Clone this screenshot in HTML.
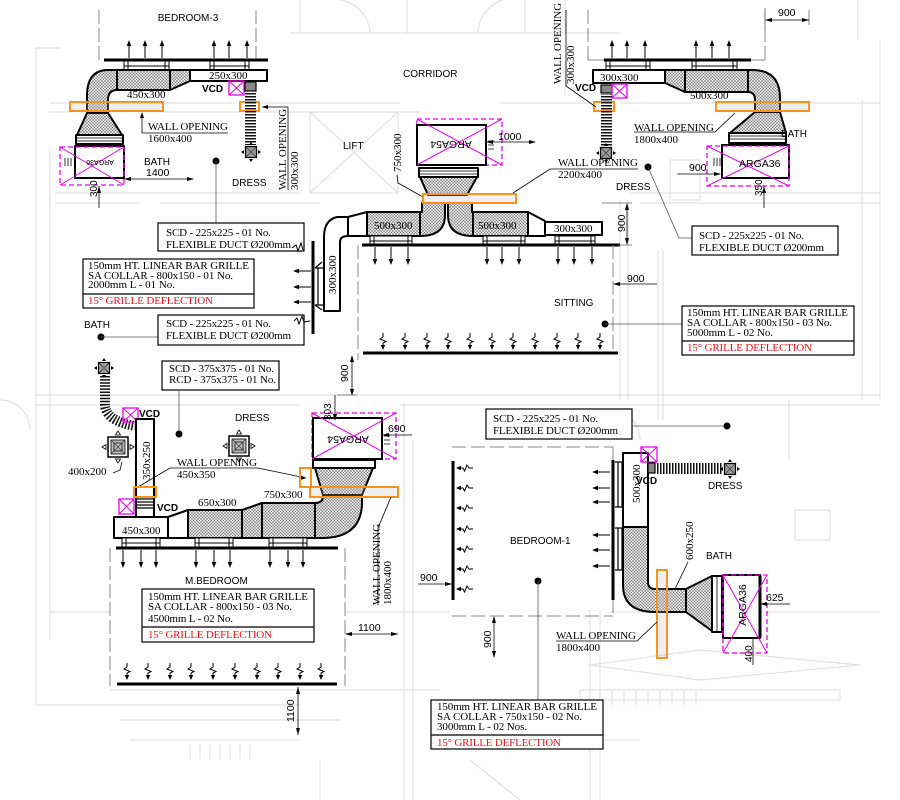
<!DOCTYPE html>
<html><head><meta charset="utf-8"><style>
html,body{margin:0;padding:0;background:#fff;}
svg{display:block;}
.s{font-family:"Liberation Sans",sans-serif;}
.r{font-family:"Liberation Serif",serif;}
</style></head><body>
<svg width="900" height="800" viewBox="0 0 900 800" xmlns="http://www.w3.org/2000/svg">
<defs>
<pattern id="h" width="3" height="3" patternUnits="userSpaceOnUse"><rect width="3" height="3" fill="#e2e2e2"/><path d="M0,0L3,3M3,0L0,3" stroke="#6a6a6a" stroke-width="0.45"/></pattern>
<pattern id="fx" width="3" height="3" patternUnits="userSpaceOnUse"><rect width="3" height="1.5" fill="#111"/></pattern>
<pattern id="fxv" width="3" height="3" patternUnits="userSpaceOnUse"><rect width="1.5" height="3" fill="#111"/></pattern>
<g id="ad"><line x1="0" y1="0" x2="0" y2="13" stroke="#000" stroke-width="1"/><path d="M-2.3,12L0,18L2.3,12z"/></g>
<g id="au"><line x1="0" y1="18" x2="0" y2="5" stroke="#000" stroke-width="1"/><path d="M-2.3,6L0,0L2.3,6z"/></g>
<g id="al"><line x1="18" y1="0" x2="5" y2="0" stroke="#000" stroke-width="1"/><path d="M6,-2.3L0,0L6,2.3z"/></g>
<g id="zd"><path d="M0,0V4L-3,6L3,8.5L0,10V13" fill="none" stroke="#000" stroke-width="1"/><path d="M-2.2,12L0,17L2.2,12z"/></g>
<g id="zl"><path d="M16,0H12L10,-3L7.5,3L6,0H3" fill="none" stroke="#000" stroke-width="1"/><path d="M4,-2.2L-1,0L4,2.2z"/></g>
<g id="df"><rect x="-5.5" y="-5.5" width="11" height="11" fill="#9a9a9a" stroke="#000" stroke-width="1.2"/><path d="M-5,-5L5,5M5,-5L-5,5" stroke="#333" stroke-width="0.7"/><path d="M0,-10L-2,-7H2z M0,10L-2,7H2z M-10,0L-7,-2V2z M10,0L7,-2V2z"/></g>
<g id="dfb"><rect x="-10" y="-10" width="20" height="20" fill="#fff" stroke="#000" stroke-width="1.5"/><rect x="-7" y="-7" width="14" height="14" fill="#bbb" stroke="#000" stroke-width="0.8"/><rect x="-4" y="-4" width="8" height="8" fill="none" stroke="#000" stroke-width="0.7"/><path d="M-7,-7L7,7M7,-7L-7,7" stroke="#333" stroke-width="0.6"/><path d="M0,-16L-2.5,-12H2.5z M0,16L-2.5,12H2.5z M-16,0L-12,-2.5V2.5z M16,0L12,-2.5V2.5z" fill="#fff" stroke="#000" stroke-width="0.8"/></g>
</defs>
<rect width="900" height="800" fill="#fff"/>

<!-- ============ ARCHITECTURE (light) ============ -->
<g stroke="#e2e2e2" stroke-width="1.2" fill="none">
<path d="M36,48V705M50,150V640M36,48H60"/>
<path d="M50,103H232M262,103H400M500,103H590M620,103H880M50,112H70M163,112H240M262,112H420"/>
<path d="M55,193H300M55,203H140M160,203H320M630,193H880M640,203H880"/>
<path d="M36,395H880M36,405H300M400,405H880"/>
<path d="M620,200V400M628,200V400M658,250V420M663,250V420M789,400V460M862,100V400"/>
<path d="M404,403V800M413,440V800M590,610V800M600,610V800"/>
<path d="M50,612H110M345,612H450M610,612H880M110,690H440M455,740H640M36,705H300"/>
<rect x="310" y="112" width="88" height="81"/><path d="M310,112L398,193M398,112L310,193"/>
<path d="M340,0A35,35 0 0 1 370,33M503,0A35,35 0 0 0 478,33M290,33H620M300,33V0M407,0V33M525,33V0"/>
<path d="M565,0V33M565,60V95M858,0V40M880,40V400"/>
<path d="M0,400A30,30 0 0 1 30,430M610,410A30,30 0 0 1 640,440"/>
<path d="M590,665L700,650L860,665L700,680Z M580,690H840V700H580Z"/>
<path d="M190,745V760M200,745V760M210,745V760M220,745V760M230,745V760M240,745V760M250,745V760M600,690V705M612,690V705M624,690V705M636,690V705M648,690V705M660,690V705M672,690V705M684,690V705M696,690V705"/>
<path d="M130,740H300M120,720H340M320,760V800M470,760L520,800"/>
<path d="M670,160H700V200H670ZM795,510H830V540H795Z"/>
</g>

<!-- ============ TOP-LEFT (BEDROOM-3) ============ -->
<text x="188" y="21" class="s" font-size="10" text-anchor="middle">BEDROOM-3</text>
<path d="M99,10V60M256,10V60" stroke="#888" stroke-width="1" stroke-dasharray="14,4"/>
<use href="#au" x="129" y="40"/><use href="#au" x="145" y="40"/><use href="#au" x="162" y="40"/>
<use href="#au" x="214" y="40"/><use href="#au" x="229" y="40"/><use href="#au" x="247" y="40"/>
<g stroke="#000" fill="#fff" stroke-width="1">
<rect x="124" y="60" width="45" height="10"/><path d="M128,60V70M165,60V70M124,66H169"/>
<rect x="210" y="60" width="39" height="10"/><path d="M214,60V70M245,60V70M210,66H249"/>
</g>
<line x1="104" y1="60" x2="268" y2="60" stroke="#000" stroke-width="3"/>
<g stroke="#000" stroke-width="2" stroke-linejoin="round">
<path fill="url(#h)" d="M117,70H108Q87,70 87,96V113H108V100Q108,90 117,90Z"/>
<rect x="117" y="70" width="53" height="20" fill="url(#h)"/>
<path fill="url(#h)" d="M170,70H190V81L170,90Z"/>
<rect x="190" y="70" width="77" height="11" fill="#fff"/>
<path fill="url(#h)" d="M87,113H108L122,135H77Z"/>
<rect x="76" y="135" width="47" height="9" fill="#fff"/>
<rect x="75" y="146" width="49" height="32" fill="#fff"/>
</g>
<path d="M76,138H123M76,141H123" stroke="#000" stroke-width="0.8"/>
<rect x="60" y="147" width="64" height="38" fill="none" stroke="#e0e" stroke-width="1.3" stroke-dasharray="5,3"/>
<path d="M60,147L124,185M124,147L60,185" stroke="#e0e" stroke-width="1"/>
<text transform="translate(100,160) rotate(180)" class="s" font-size="7" text-anchor="middle">ARGA36</text>
<path d="M71,158V166M68,158V166M65,158V166" stroke="#000" stroke-width="0.8"/>
<text x="127" y="98" class="r" font-size="11">450x300</text>
<text x="209" y="79" class="r" font-size="11">250x300</text>
<rect x="70" y="102" width="93" height="9" fill="rgba(190,190,190,0.25)" stroke="#f7941d" stroke-width="2"/>
<rect x="240" y="102" width="19" height="9" fill="none" stroke="#f7941d" stroke-width="2"/>
<text x="202" y="92" class="s" font-size="10" font-weight="bold">VCD</text>
<rect x="229" y="81" width="15" height="14" fill="none" stroke="#e0e" stroke-width="1.3"/>
<path d="M229,81L244,95M244,81L229,95" stroke="#e0e" stroke-width="1"/>
<rect x="245" y="82" width="11" height="9" fill="#888" stroke="#000" stroke-width="1.2"/>
<rect x="245" y="92" width="11" height="53" fill="url(#fx)"/>
<use href="#df" x="251" y="152"/>
<path d="M142,113V133H228" stroke="#000" stroke-width="0.8" fill="none"/><path d="M140,118L142,112L144,118z"/>
<text x="148" y="130" class="r" font-size="11" textLength="80">WALL OPENING</text>
<text x="148" y="142" class="r" font-size="11">1600x400</text>
<path d="M262,107H288V190" stroke="#000" stroke-width="0.8" fill="none"/><path d="M268,105L262,107L268,109z"/>
<text transform="translate(286,190) rotate(-90)" class="r" font-size="11">WALL OPENING</text>
<text transform="translate(298,190) rotate(-90)" class="r" font-size="11">300x300</text>
<text x="144" y="165" class="s" font-size="10">BATH</text>
<text x="146" y="176" class="s" font-size="10.5">1400</text>
<line x1="125" y1="179" x2="193" y2="179" stroke="#000" stroke-width="0.8"/><path d="M131,177L124,179L131,181zM187,177L194,179L187,181z"/>
<text transform="translate(97,197) rotate(-90)" class="s" font-size="10">300</text>
<line x1="99" y1="186" x2="99" y2="208" stroke="#000" stroke-width="0.8"/><path d="M97,193L99,186L101,193z"/>
<circle cx="216" cy="161" r="3.5"/>
<line x1="216" y1="161" x2="216" y2="223" stroke="#555" stroke-width="0.8"/>
<text x="232" y="186" class="s" font-size="10">DRESS</text>
<rect x="158" y="223" width="146" height="28" fill="#fff" stroke="#000" stroke-width="1.2"/>
<text x="166" y="236" class="r" font-size="11" textLength="105">SCD - 225x225 - 01 No.</text>
<text x="166" y="248" class="r" font-size="11" textLength="125">FLEXIBLE DUCT Ø200mm</text>
<path d="M292,248L296,245L298,251L301,243L303,250" stroke="#000" stroke-width="1" fill="none"/>

<text x="403" y="77" class="s" font-size="10">CORRIDOR</text>
<text x="343" y="149" class="s" font-size="10">LIFT</text>

<!-- ============ TOP-RIGHT ============ -->
<path d="M588,10V60M765,10V60" stroke="#888" stroke-width="1" stroke-dasharray="14,4"/>
<path d="M588,60H605M750,60H765" stroke="#888" stroke-width="1"/>
<text x="778" y="16" class="s" font-size="10.5">900</text>
<path d="M765,8V30M809,10V25" stroke="#666" stroke-width="0.8"/>
<line x1="766" y1="20" x2="809" y2="20" stroke="#000" stroke-width="0.8"/><path d="M772,18L765,20L772,22zM802,18L809,20L802,22z"/>
<use href="#au" x="612" y="40"/><use href="#au" x="627" y="40"/><use href="#au" x="645" y="40"/>
<use href="#au" x="696" y="40"/><use href="#au" x="712" y="40"/><use href="#au" x="729" y="40"/>
<g stroke="#000" fill="#fff" stroke-width="1">
<rect x="606" y="60" width="44" height="10"/><path d="M610,60V70M646,60V70M606,66H650"/>
<rect x="692" y="60" width="45" height="10"/><path d="M696,60V70M733,60V70M692,66H737"/>
</g>
<line x1="604" y1="60" x2="751" y2="60" stroke="#000" stroke-width="3"/>
<g stroke="#000" stroke-width="2" stroke-linejoin="round">
<rect x="593" y="70" width="72" height="13" fill="#fff"/>
<path fill="url(#h)" d="M665,70H685V92L665,83Z"/>
<rect x="685" y="70" width="63" height="22" fill="url(#h)"/>
<path fill="url(#h)" d="M748,70H752Q780,70 780,98V112H755V100Q755,92 748,92Z"/>
<path fill="url(#h)" d="M755,112H780L786,133H730Z"/>
<rect x="729" y="133" width="57" height="10" fill="#fff"/>
<rect x="722" y="145" width="67" height="33" fill="#fff"/>
</g>
<path d="M729,136H786M729,139H786" stroke="#000" stroke-width="0.8"/>
<rect x="707" y="146" width="82" height="40" fill="none" stroke="#e0e" stroke-width="1.3" stroke-dasharray="5,3"/>
<path d="M707,146L789,186M789,146L707,186" stroke="#e0e" stroke-width="1"/>
<text x="739" y="167" class="s" font-size="10.5">ARGA36</text>
<path d="M717,158V166M720,158V166M714,158V166" stroke="#000" stroke-width="0.8"/>
<text x="600" y="81" class="r" font-size="11">300x300</text>
<text x="690" y="99" class="r" font-size="11">500x300</text>
<rect x="716" y="102" width="93" height="9" fill="rgba(190,190,190,0.25)" stroke="#f7941d" stroke-width="2"/>
<rect x="594" y="102" width="20" height="9" fill="none" stroke="#f7941d" stroke-width="2"/>
<text x="575" y="91" class="s" font-size="10" font-weight="bold">VCD</text>
<rect x="601" y="85" width="11" height="8" fill="#888" stroke="#000" stroke-width="1.2"/>
<rect x="612" y="84" width="15" height="14" fill="none" stroke="#e0e" stroke-width="1.3"/>
<path d="M612,84L627,98M627,84L612,98" stroke="#e0e" stroke-width="1"/>
<rect x="601" y="94" width="11" height="54" fill="url(#fx)"/>
<use href="#df" x="606" y="153"/>
<path d="M596,107L566,86V10" stroke="#000" stroke-width="0.8" fill="none"/>
<text transform="translate(561,84) rotate(-90)" class="r" font-size="11">WALL OPENING</text>
<text transform="translate(574,84) rotate(-90)" class="r" font-size="11">300x300</text>
<path d="M735,113L715,132H634" stroke="#000" stroke-width="0.8" fill="none"/>
<text x="634" y="131" class="r" font-size="11" textLength="80">WALL OPENING</text>
<text x="634" y="143" class="r" font-size="11">1800x400</text>
<text x="781" y="137" class="s" font-size="10">BATH</text>
<text x="689" y="171" class="s" font-size="10.5">900</text>
<line x1="677" y1="174" x2="720" y2="174" stroke="#000" stroke-width="0.8"/><path d="M714,172L721,174L714,176z"/>
<text transform="translate(762,196) rotate(-90)" class="s" font-size="10">350</text>
<line x1="764" y1="186" x2="764" y2="208" stroke="#000" stroke-width="0.8"/><path d="M762,193L764,186L766,193z"/>
<text x="616" y="190" class="s" font-size="10">DRESS</text>
<circle cx="648" cy="167" r="3.5"/>
<path d="M648,167L679,238H692" stroke="#555" stroke-width="0.8" fill="none"/>
<rect x="692" y="226" width="146" height="29" fill="#fff" stroke="#000" stroke-width="1.2"/>
<text x="699" y="239" class="r" font-size="11" textLength="105">SCD - 225x225 - 01 No.</text>
<text x="699" y="251" class="r" font-size="11" textLength="125">FLEXIBLE DUCT Ø200mm</text>

<!-- ============ CENTER (SITTING) ============ -->
<rect x="417" y="119" width="85" height="46" fill="none" stroke="#e0e" stroke-width="1.3" stroke-dasharray="5,3"/>
<rect x="417" y="125" width="69" height="40" fill="#fff" stroke="#000" stroke-width="2"/>
<path d="M417,119L502,165M502,119L417,165" stroke="#e0e" stroke-width="1"/>
<text transform="translate(451,141) rotate(180)" class="s" font-size="10.5" text-anchor="middle">ARGA54</text>
<path d="M488,141H494M488,145H494M488,149H494" stroke="#000" stroke-width="0.8"/>
<text x="498" y="140" class="s" font-size="10.5">1000</text>
<line x1="487" y1="142" x2="535" y2="142" stroke="#000" stroke-width="0.8"/><path d="M493,140L486,142L493,144zM529,140L536,142L529,144z"/>
<g stroke="#000" stroke-width="2" stroke-linejoin="round">
<rect x="419" y="168" width="59" height="9" fill="#fff"/>
<path fill="url(#h)" d="M420,177H477L467,195H428Z"/>
<path fill="url(#h)" d="M422,203H445V215Q445,236 420,236V212H422Z"/>
<path fill="url(#h)" d="M448,203H472V212H473V236Q448,236 448,215Z"/>
<rect x="367" y="212" width="53" height="24" fill="url(#h)"/>
<rect x="473" y="212" width="55" height="24" fill="url(#h)"/>
<path fill="#fff" d="M348,217L367,212V236H348Z"/>
<path fill="#fff" d="M528,212L545,221V236H528Z"/>
<rect x="545" y="222" width="57" height="13" fill="#fff"/>
<path fill="#fff" d="M348,217H337Q324,220 324,237V311H340V242Q340,236 348,236Z"/>
</g>
<path d="M419,171H478M419,174H478" stroke="#000" stroke-width="0.8"/>
<text x="374" y="229" class="r" font-size="11">500x300</text>
<text x="478" y="229" class="r" font-size="11">500x300</text>
<text x="554" y="232" class="r" font-size="11">300x300</text>
<text transform="translate(336,294) rotate(-90)" class="r" font-size="11">300x300</text>
<text transform="translate(401,172) rotate(-90)" class="r" font-size="11">750x300</text>
<path d="M397,175L398,183L423,197" stroke="#000" stroke-width="0.8" fill="none"/>
<rect x="423" y="194" width="93" height="9" fill="rgba(190,190,190,0.25)" stroke="#f7941d" stroke-width="2"/>
<path d="M513,193L550,169H638" stroke="#000" stroke-width="0.8" fill="none"/>
<text x="558" y="166" class="r" font-size="11" textLength="80">WALL OPENING</text>
<text x="558" y="178" class="r" font-size="11">2200x400</text>
<g stroke="#000" fill="#fff" stroke-width="1">
<rect x="370" y="236" width="42" height="9"/><path d="M374,236V245M408,236V245M370,241H412"/>
<rect x="483" y="236" width="42" height="9"/><path d="M487,236V245M521,236V245M483,241H525"/>
<rect x="555" y="236" width="40" height="9"/><path d="M559,236V245M591,236V245M555,241H595"/>
</g>
<line x1="362" y1="245" x2="620" y2="245" stroke="#000" stroke-width="3"/>
<use href="#ad" x="375" y="247"/><use href="#ad" x="391" y="247"/><use href="#ad" x="408" y="247"/>
<use href="#ad" x="487" y="247"/><use href="#ad" x="502" y="247"/><use href="#ad" x="519" y="247"/>
<use href="#ad" x="558" y="247"/><use href="#ad" x="574" y="247"/><use href="#ad" x="592" y="247"/>
<text transform="translate(625,232) rotate(-90)" class="s" font-size="10.5">900</text>
<path d="M602,203H632M618,245H632" stroke="#666" stroke-width="0.8"/>
<line x1="627" y1="204" x2="627" y2="244" stroke="#000" stroke-width="0.8"/><path d="M625,210L627,203L629,210zM625,238L627,245L629,238z"/>
<path d="M358,245V360M613,245V352" stroke="#888" stroke-width="1" stroke-dasharray="14,4"/>
<line x1="363" y1="353" x2="618" y2="353" stroke="#000" stroke-width="3"/>
<use href="#zd" x="383" y="333"/><use href="#zd" x="405" y="333"/><use href="#zd" x="427" y="333"/><use href="#zd" x="448" y="333"/>
<use href="#zd" x="470" y="333"/><use href="#zd" x="492" y="333"/><use href="#zd" x="513" y="333"/><use href="#zd" x="535" y="333"/>
<use href="#zd" x="557" y="333"/><use href="#zd" x="578" y="333"/><use href="#zd" x="600" y="333"/>
<text x="554" y="306" class="s" font-size="10">SITTING</text>
<text x="627" y="282" class="s" font-size="10.5">900</text>
<line x1="614" y1="284" x2="657" y2="284" stroke="#000" stroke-width="0.8"/><path d="M620,282L613,284L620,286z"/>
<circle cx="605" cy="324" r="3.5"/>
<line x1="605" y1="324" x2="682" y2="324" stroke="#555" stroke-width="0.8"/>
<rect x="682" y="306" width="172" height="49" fill="#fff" stroke="#000" stroke-width="1.2"/>
<line x1="682" y1="341" x2="854" y2="341" stroke="#000" stroke-width="1.2"/>
<text x="687" y="316" class="r" font-size="11" textLength="161">150mm HT. LINEAR BAR GRILLE</text>
<text x="687" y="326" class="r" font-size="11" textLength="145">SA COLLAR - 800x150 - 03 No.</text>
<text x="687" y="336" class="r" font-size="11" textLength="86">5000mm L - 02 No.</text>
<text x="687" y="351" class="r" font-size="11" fill="#e8141c" textLength="125">15° GRILLE DEFLECTION</text>

<!-- left side of sitting -->
<line x1="313" y1="241" x2="313" y2="334" stroke="#000" stroke-width="3"/>
<path d="M315,268H324M315,305H324M318,268V305M315,268L322,262M315,305L322,310" stroke="#000" stroke-width="1.2" fill="none"/>
<use href="#al" x="293" y="271"/><use href="#al" x="293" y="287"/><use href="#al" x="293" y="302"/>
<rect x="83" y="259" width="171" height="49" fill="#fff" stroke="#000" stroke-width="1.2"/>
<line x1="83" y1="294" x2="254" y2="294" stroke="#000" stroke-width="1.2"/>
<text x="88" y="269" class="r" font-size="11" textLength="161">150mm HT. LINEAR BAR GRILLE</text>
<text x="88" y="279" class="r" font-size="11" textLength="145">SA COLLAR - 800x150 - 01 No.</text>
<text x="88" y="288" class="r" font-size="11" textLength="87">2000mm L - 01 No.</text>
<text x="88" y="304" class="r" font-size="11" fill="#e8141c" textLength="125">15° GRILLE DEFLECTION</text>
<text x="84" y="328" class="s" font-size="10">BATH</text>
<circle cx="101" cy="337" r="3.5"/>
<line x1="101" y1="337" x2="158" y2="337" stroke="#555" stroke-width="0.8"/>
<rect x="158" y="315" width="146" height="30" fill="#fff" stroke="#000" stroke-width="1.2"/>
<text x="166" y="327" class="r" font-size="11" textLength="105">SCD - 225x225 - 01 No.</text>
<text x="166" y="339" class="r" font-size="11" textLength="125">FLEXIBLE DUCT Ø200mm</text>
<path d="M294,321L297,318L299,324L302,316L304,322L310,321" stroke="#000" stroke-width="1" fill="none"/>
<rect x="162" y="361" width="117" height="29" fill="#fff" stroke="#000" stroke-width="1.2"/>
<text x="169" y="372" class="r" font-size="11" textLength="105">SCD - 375x375 - 01 No.</text>
<text x="169" y="383" class="r" font-size="11" textLength="107">RCD - 375x375 - 01 No.</text>
<line x1="179" y1="390" x2="179" y2="434" stroke="#555" stroke-width="0.8"/>
<circle cx="179" cy="434" r="3.5"/>
<text transform="translate(348,382) rotate(-90)" class="s" font-size="10.5">900</text>
<line x1="352" y1="356" x2="352" y2="395" stroke="#000" stroke-width="0.8"/><path d="M350,362L352,355L354,362zM350,389L352,396L354,389z"/>
<path d="M352,395H357M337,395H357" stroke="#666" stroke-width="0.8"/>

<!-- ============ LOWER-LEFT (M.BEDROOM) ============ -->
<use href="#df" x="104" y="368"/>
<path d="M105,376V405Q106,421 135,426" stroke="#111" stroke-width="10" stroke-dasharray="1.5,1.6" fill="none"/>
<rect x="123" y="408" width="15" height="14" fill="none" stroke="#e0e" stroke-width="1.3"/>
<path d="M123,408L138,422M138,408L123,422" stroke="#e0e" stroke-width="1"/>
<text x="139" y="417" class="s" font-size="10" font-weight="bold">VCD</text>
<rect x="136" y="419" width="18" height="98" fill="#fff" stroke="#000" stroke-width="2"/>
<text transform="translate(150,480) rotate(-90)" class="r" font-size="11">350x250</text>
<use href="#dfb" x="118" y="447"/>
<text x="68" y="475" class="r" font-size="11">400x200</text>
<path d="M113,473L120,470L122,462" stroke="#000" stroke-width="0.8" fill="none"/>
<text x="235" y="421" class="s" font-size="10">DRESS</text>
<use href="#dfb" x="239" y="446"/>
<path d="M138,487L170,468H258L306,478" stroke="#000" stroke-width="0.8" fill="none"/><path d="M300,475L306,478L300,480z"/>
<text x="177" y="466" class="r" font-size="11" textLength="80">WALL OPENING</text>
<text x="177" y="478" class="r" font-size="11">450x350</text>
<rect x="134" y="487" width="22" height="10" fill="none" stroke="#f7941d" stroke-width="2"/>
<path d="M137,499H153M137,502H153M137,505H153M137,508H153" stroke="#000" stroke-width="1.2"/>
<rect x="119" y="499" width="15" height="15" fill="none" stroke="#e0e" stroke-width="1.3"/>
<path d="M119,499L134,514M134,499L119,514" stroke="#e0e" stroke-width="1"/>
<text x="157" y="511" class="s" font-size="10" font-weight="bold">VCD</text>
<!-- unit -->
<rect x="312" y="413" width="84" height="46" fill="none" stroke="#e0e" stroke-width="1.3" stroke-dasharray="5,3"/>
<rect x="313" y="418" width="69" height="41" fill="#fff" stroke="#000" stroke-width="2"/>
<path d="M312,413L396,459M396,413L312,459" stroke="#e0e" stroke-width="1"/>
<text transform="translate(348,436) rotate(180)" class="s" font-size="10.5" text-anchor="middle">ARGA54</text>
<path d="M384,436H390M384,440H390M384,444H390" stroke="#000" stroke-width="0.8"/>
<text transform="translate(331,420) rotate(-90)" class="s" font-size="10">303</text>
<line x1="335" y1="395" x2="335" y2="420" stroke="#000" stroke-width="0.8"/><path d="M333,414L335,421L337,414z"/>
<text x="388" y="432" class="s" font-size="10.5">690</text>
<line x1="382" y1="435" x2="412" y2="435" stroke="#000" stroke-width="0.8"/><path d="M389,433L382,435L389,437z"/>
<g stroke="#000" stroke-width="2" stroke-linejoin="round">
<rect x="313" y="460" width="62" height="8" fill="#fff"/>
<path fill="url(#h)" d="M315,468H373L362,495H323Z"/>
<path fill="url(#h)" d="M323,495H362V505Q360,538 322,538H315V503Q323,503 323,496Z"/>
<rect x="262" y="503" width="53" height="35" fill="url(#h)"/>
<path fill="url(#h)" d="M242,510L262,503V538H242Z"/>
<rect x="188" y="510" width="54" height="28" fill="url(#h)"/>
<path fill="#fff" d="M168,517L188,510V538H168Z"/>
<rect x="114" y="517" width="54" height="21" fill="#fff"/>
</g>
<text x="122" y="534" class="r" font-size="11">450x300</text>
<text x="198" y="506" class="r" font-size="11">650x300</text>
<text x="264" y="498" class="r" font-size="11">750x300</text>
<rect x="300" y="468" width="11" height="19" fill="none" stroke="#f7941d" stroke-width="2"/>
<rect x="310" y="487" width="88" height="10" fill="rgba(190,190,190,0.25)" stroke="#f7941d" stroke-width="2"/>
<g stroke="#000" fill="#fff" stroke-width="1">
<rect x="122" y="538" width="38" height="10"/><path d="M126,538V548M156,538V548M122,543H160"/>
<rect x="195" y="538" width="38" height="10"/><path d="M199,538V548M229,538V548M195,543H233"/>
<rect x="269" y="538" width="38" height="10"/><path d="M273,538V548M303,538V548M269,543H307"/>
</g>
<line x1="116" y1="548" x2="338" y2="548" stroke="#000" stroke-width="3"/>
<use href="#ad" x="123" y="550"/><use href="#ad" x="141" y="550"/><use href="#ad" x="156" y="550"/>
<use href="#ad" x="196" y="550"/><use href="#ad" x="214" y="550"/><use href="#ad" x="230" y="550"/>
<use href="#ad" x="270" y="550"/><use href="#ad" x="288" y="550"/><use href="#ad" x="303" y="550"/>
<path d="M110,548V686M345,548V686" stroke="#888" stroke-width="1" stroke-dasharray="14,4"/>
<text x="185" y="584" class="s" font-size="10">M.BEDROOM</text>
<rect x="142" y="589" width="172" height="53" fill="#fff" stroke="#000" stroke-width="1.2"/>
<line x1="142" y1="627" x2="314" y2="627" stroke="#000" stroke-width="1.2"/>
<text x="148" y="600" class="r" font-size="11" textLength="160">150mm HT. LINEAR BAR GRILLE</text>
<text x="148" y="610" class="r" font-size="11" textLength="144">SA COLLAR - 800x150 - 03 No.</text>
<text x="148" y="622" class="r" font-size="11" textLength="85">4500mm L - 02 No.</text>
<text x="148" y="638" class="r" font-size="11" fill="#e8141c" textLength="124">15° GRILLE DEFLECTION</text>
<use href="#zd" x="127" y="663"/><use href="#zd" x="148" y="663"/><use href="#zd" x="170" y="663"/><use href="#zd" x="191" y="663"/><use href="#zd" x="213" y="663"/>
<use href="#zd" x="235" y="663"/><use href="#zd" x="257" y="663"/><use href="#zd" x="278" y="663"/><use href="#zd" x="300" y="663"/><use href="#zd" x="321" y="663"/>
<line x1="117" y1="684" x2="337" y2="684" stroke="#000" stroke-width="3"/>
<text x="358" y="631" class="s" font-size="10.5">1100</text>
<line x1="346" y1="634" x2="398" y2="634" stroke="#000" stroke-width="0.8"/><path d="M352,632L345,634L352,636zM391,632L398,634L391,636z"/>
<text transform="translate(294,722) rotate(-90)" class="s" font-size="10.5">1100</text>
<line x1="298" y1="687" x2="298" y2="735" stroke="#000" stroke-width="0.8"/><path d="M296,694L298,687L300,694zM296,728L298,735L300,728z"/>
<path d="M391,497L378,528V605" stroke="#000" stroke-width="0.8" fill="none"/>
<text transform="translate(380,605) rotate(-90)" class="r" font-size="11">WALL OPENING</text>
<text transform="translate(391,605) rotate(-90)" class="r" font-size="11">1800x400</text>

<!-- ============ LOWER-RIGHT (BEDROOM-1) ============ -->
<rect x="486" y="409" width="146" height="30" fill="#fff" stroke="#000" stroke-width="1.2"/>
<text x="493" y="422" class="r" font-size="11" textLength="105">SCD - 225x225 - 01 No.</text>
<text x="493" y="434" class="r" font-size="11" textLength="125">FLEXIBLE DUCT Ø200mm</text>
<line x1="632" y1="426" x2="727" y2="426" stroke="#555" stroke-width="0.8"/>
<circle cx="727" cy="426" r="3.5"/>
<path d="M452,447H613M452,616H613M613,447V616" stroke="#888" stroke-width="1" stroke-dasharray="14,5"/>
<line x1="453" y1="461" x2="453" y2="600" stroke="#000" stroke-width="3"/>
<use href="#zl" x="457" y="468"/><use href="#zl" x="457" y="488"/><use href="#zl" x="457" y="508"/><use href="#zl" x="457" y="529"/>
<use href="#zl" x="457" y="549"/><use href="#zl" x="457" y="569"/><use href="#zl" x="457" y="589"/>
<line x1="613" y1="460" x2="613" y2="600" stroke="#000" stroke-width="3"/>
<path d="M615,462H622V507H615M618,462V507M615,528H622V570H615M618,528V570" stroke="#000" stroke-width="1.2" fill="none"/>
<use href="#al" x="592" y="472"/><use href="#al" x="592" y="488"/><use href="#al" x="592" y="502"/>
<use href="#al" x="592" y="535"/><use href="#al" x="592" y="550"/><use href="#al" x="592" y="566"/>
<g stroke="#000" stroke-width="2" stroke-linejoin="round">
<rect x="623" y="453" width="25" height="74" fill="#fff"/>
<path fill="url(#h)" d="M623,527H648V582Q648,589 655,589H686V612H655Q623,612 623,585Z"/>
<path fill="url(#h)" d="M686,589L712,576V631L686,612Z"/>
<rect x="712" y="576" width="10" height="56" fill="#fff"/>
<rect x="723" y="575" width="37" height="63" fill="#fff"/>
</g>
<line x1="717" y1="576" x2="717" y2="632" stroke="#000" stroke-width="0.8"/>
<line x1="760" y1="575" x2="760" y2="638" stroke="#000" stroke-width="3"/>
<rect x="723" y="575" width="44" height="78" fill="none" stroke="#e0e" stroke-width="1.3" stroke-dasharray="5,3"/>
<path d="M723,575L767,653M767,575L723,653" stroke="#e0e" stroke-width="1"/>
<text transform="translate(746,605) rotate(-90)" class="s" font-size="10.5" text-anchor="middle">ARGA36</text>
<text transform="translate(640,503) rotate(-90)" class="r" font-size="11">500x300</text>
<rect x="657" y="570" width="10" height="88" fill="rgba(190,190,190,0.25)" stroke="#f7941d" stroke-width="2"/>
<text transform="translate(693,560) rotate(-90)" class="r" font-size="11">600x250</text>
<path d="M688,562L675,589" stroke="#000" stroke-width="0.8"/>
<text x="706" y="559" class="s" font-size="10">BATH</text>
<text x="766" y="601" class="s" font-size="10.5">625</text>
<line x1="761" y1="604" x2="790" y2="604" stroke="#000" stroke-width="0.8"/><path d="M767,602L760,604L767,606z"/>
<text transform="translate(752,662) rotate(-90)" class="s" font-size="10">400</text>
<line x1="753" y1="638" x2="753" y2="665" stroke="#000" stroke-width="0.8"/>
<rect x="641" y="447" width="16" height="15" fill="none" stroke="#e0e" stroke-width="1.3"/>
<path d="M641,447L657,462M657,447L641,462" stroke="#e0e" stroke-width="1"/>
<rect x="648" y="463" width="7" height="10" fill="#888" stroke="#000" stroke-width="1.2"/>
<rect x="656" y="463" width="67" height="11" fill="url(#fxv)"/>
<use href="#df" x="730" y="469"/>
<text x="636" y="484" class="s" font-size="10" font-weight="bold">VCD</text>
<text x="708" y="489" class="s" font-size="10">DRESS</text>
<text x="510" y="544" class="s" font-size="10">BEDROOM-1</text>
<circle cx="538" cy="581" r="3.5"/>
<line x1="538" y1="581" x2="538" y2="700" stroke="#555" stroke-width="0.8"/>
<text x="420" y="581" class="s" font-size="10.5">900</text>
<line x1="418" y1="584" x2="452" y2="584" stroke="#000" stroke-width="0.8"/><path d="M445,582L452,584L445,586z"/>
<text transform="translate(491,648) rotate(-90)" class="s" font-size="10.5">900</text>
<line x1="494" y1="617" x2="494" y2="657" stroke="#000" stroke-width="0.8"/><path d="M492,623L494,616L496,623zM492,651L494,658L496,651z"/>
<path d="M556,641H637L657,622" stroke="#000" stroke-width="0.8" fill="none"/>
<text x="556" y="639" class="r" font-size="11" textLength="80">WALL OPENING</text>
<text x="556" y="651" class="r" font-size="11">1800x400</text>
<rect x="431" y="700" width="172" height="49" fill="#fff" stroke="#000" stroke-width="1.2"/>
<line x1="431" y1="735" x2="603" y2="735" stroke="#000" stroke-width="1.2"/>
<text x="437" y="710" class="r" font-size="11" textLength="160">150mm HT. LINEAR BAR GRILLE</text>
<text x="437" y="720" class="r" font-size="11" textLength="145">SA COLLAR - 750x150 - 02 No.</text>
<text x="437" y="730" class="r" font-size="11" textLength="90">3000mm L - 02 Nos.</text>
<text x="437" y="746" class="r" font-size="11" fill="#e8141c" textLength="124">15° GRILLE DEFLECTION</text>
</svg>
</body></html>
